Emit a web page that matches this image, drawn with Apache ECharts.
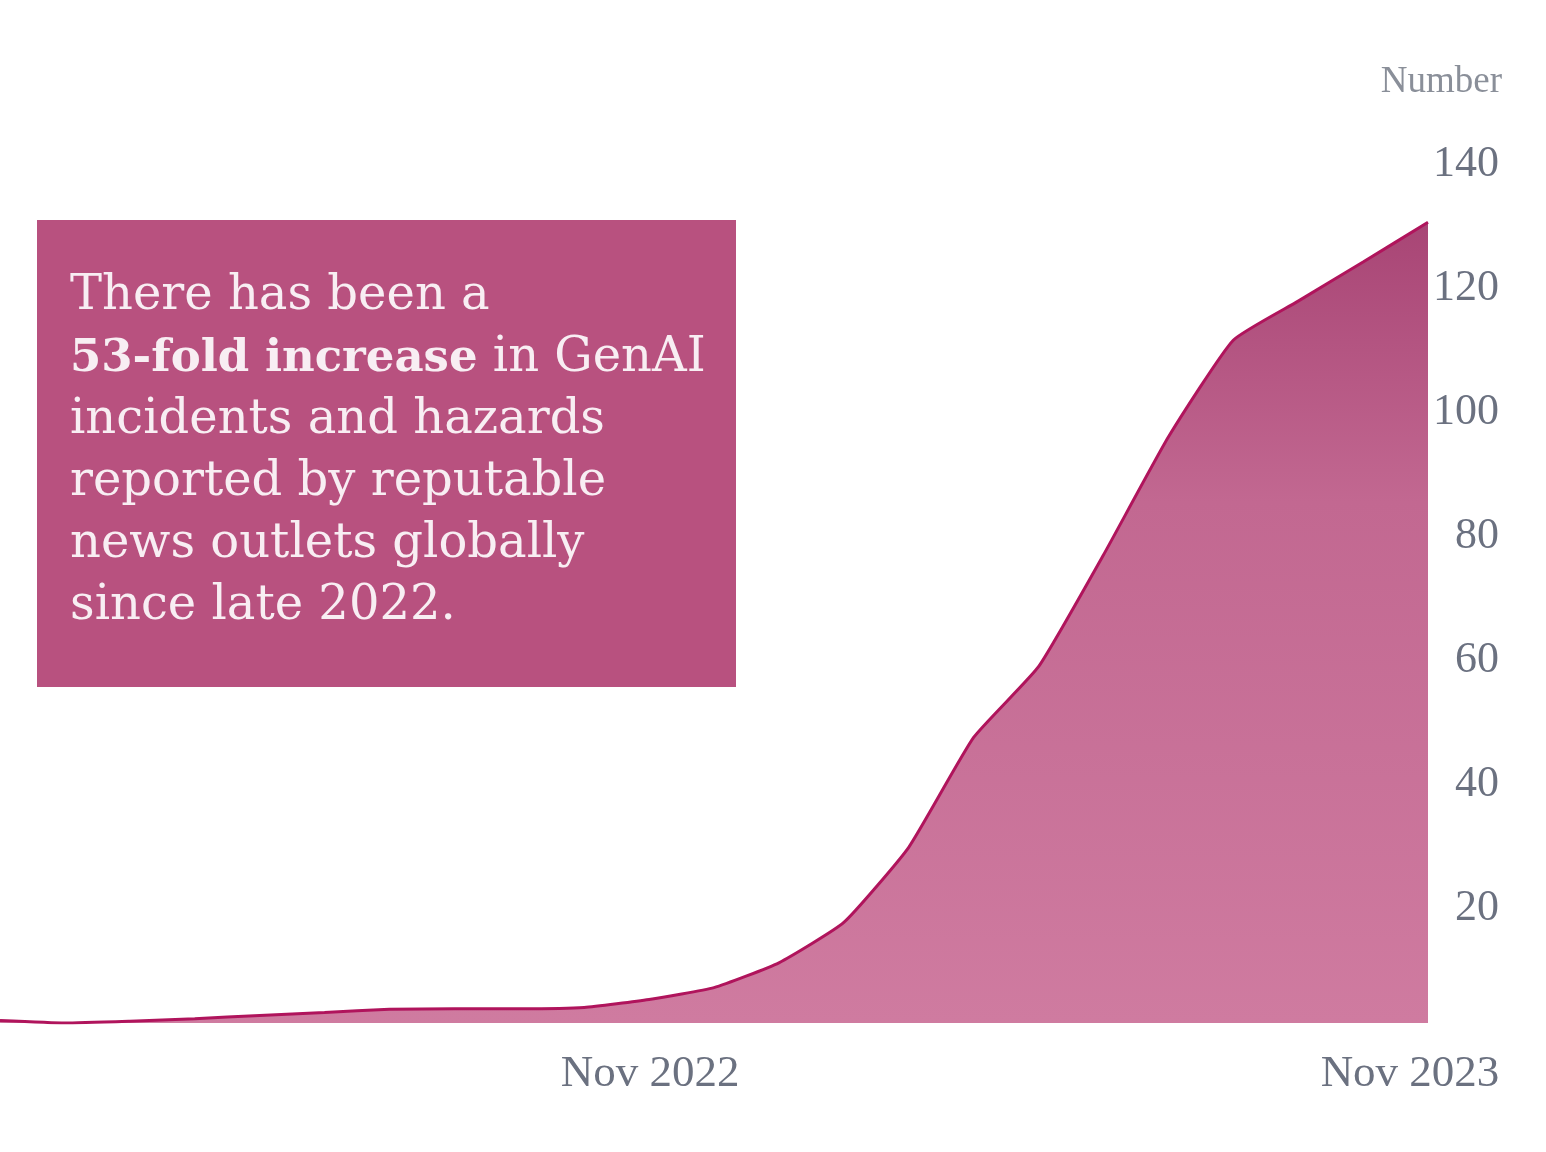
<!DOCTYPE html>
<html>
<head>
<meta charset="utf-8">
<script src="https://cdn.jsdelivr.net/npm/echarts@6/dist/echarts.min.js"></script>
<style>
html,body{margin:0;padding:0;background:#fff;}
#c{width:1546px;height:1152px;}
</style>
</head>
<body>
<div id="c"></div>
<script>
const months = ['Jan 2022','Feb 2022','Mar 2022','Apr 2022','May 2022','Jun 2022','Jul 2022','Aug 2022','Sep 2022','Oct 2022','Nov 2022','Dec 2022',
  'Jan 2023','Feb 2023','Mar 2023','Apr 2023','May 2023','Jun 2023','Jul 2023','Aug 2023','Sep 2023','Oct 2023','Nov 2023'];
const incidents = [0.4,0,0.3,0.7,1.2,1.7,2.2,2.3,2.3,2.5,3.8,5.7,
  9.7,16.2,28.3,46,57.4,75.4,94.4,110,116.3,122.6,129];
const yTicks = [0,20,40,60,80,100,120,140];
const shownXLabels = ['Nov 2022','Nov 2023'];
const yAxisName = 'Number';
const noteLines = [
  [['r','There has been a']],
  [['b','53-fold increase'],['r',' in GenAI']],
  [['r','incidents and hazards']],
  [['r','reported by reputable']],
  [['r','news outlets globally']],
  [['r','since late 2022.']]
];

const chart = echarts.init(document.getElementById('c'), null, {renderer:'canvas'});
const axisColor = '#6b7180';
const noteText = noteLines.map(l => l.map(p => '{' + p[0] + '|' + p[1] + '}').join('')).join('\n');

chart.setOption({
  backgroundColor: '#ffffff',
  animation: false,
  grid: { left: -28, right: 118, top: 154, bottom: 129, containLabel: false },
  xAxis: {
    type: 'category',
    data: months,
    boundaryGap: false,
    axisLine: { show: false },
    axisTick: { show: false },
    splitLine: { show: false },
    axisLabel: {
      interval: (i, v) => shownXLabels.indexOf(v) >= 0,
      margin: 29,
      formatter: v => v === shownXLabels[0] ? '{a|' + v + '}' : '{b|' + v + '}',
      rich: {
        a: { fontFamily: 'Liberation Serif', fontSize: 45, color: axisColor, padding: [0,0,0,2] },
        b: { fontFamily: 'Liberation Serif', fontSize: 45, color: axisColor, padding: [0,36,0,0] }
      }
    }
  },
  yAxis: {
    type: 'value',
    position: 'right',
    min: yTicks[0],
    max: yTicks[yTicks.length-1],
    interval: 20,
    name: yAxisName,
    nameLocation: 'end',
    nameGap: 53,
    nameTextStyle: { fontFamily: 'Liberation Serif', fontSize: 37, color: '#8a8f99', align: 'right', padding: [0, -74, 0, 0] },
    axisLine: { show: false },
    axisTick: { show: false },
    splitLine: { show: false },
    axisLabel: {
      margin: 71,
      align: 'right',
      formatter: v => v === 0 ? '' : '{a|' + v + '}',
      rich: {
        a: { fontFamily: 'Liberation Serif', fontSize: 44, color: axisColor, padding: [20,0,0,0] }
      }
    }
  },
  series: [{
    type: 'line',
    data: incidents,
    smooth: 0.15,
    symbol: 'none',
    lineStyle: { color: '#b0145c', width: 3 },
    areaStyle: {
      opacity: 1,
      color: new echarts.graphic.LinearGradient(0, 0, 0, 1, [
        { offset: 0, color: '#a84575' },
        { offset: 0.35, color: '#c26891' },
        { offset: 1, color: '#cf7ba0' }
      ])
    }
  }],
  graphic: [
    {
      type: 'rect',
      left: 37, top: 220,
      shape: { width: 699, height: 467 },
      style: { fill: '#b8517f' },
      z: 10
    },
    {
      type: 'text',
      left: 70, top: 273,
      z: 11,
      style: {
        text: noteText,
        rich: {
          r: { fontFamily: 'DejaVu Serif', fontSize: 48, lineHeight: 62, fill: '#f8eef3' },
          b: { fontFamily: 'DejaVu Serif', fontSize: 45, lineHeight: 62, fontWeight: 'bold', fill: '#f8eef3' }
        }
      }
    }
  ]
});
</script>
</body>
</html>
